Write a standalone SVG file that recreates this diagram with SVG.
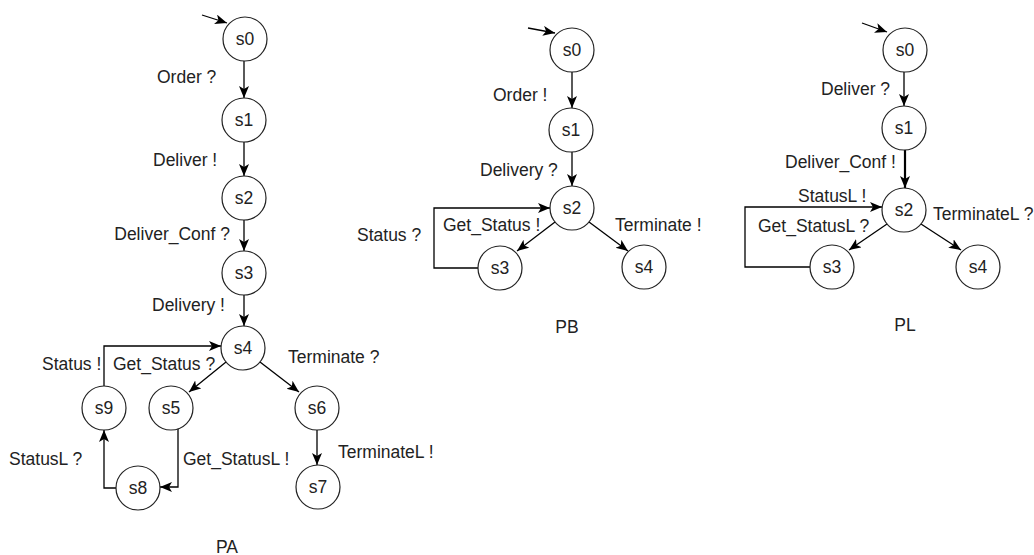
<svg xmlns="http://www.w3.org/2000/svg" width="1034" height="555" viewBox="0 0 1034 555">
<defs>
<style>
.st circle{fill:#fff;stroke:#222;stroke-width:1.2}
text{font-family:"Liberation Sans",Arial,sans-serif;font-size:17.5px;fill:#222}
.st text{text-anchor:middle}
.e{fill:none;stroke:#000;stroke-width:1.3;marker-end:url(#ah)}
.mid{text-anchor:middle}
.end{text-anchor:end}
</style>
<marker id="ah" markerUnits="userSpaceOnUse" markerWidth="13" markerHeight="11" refX="12" refY="5" orient="auto">
<path d="M0,0 L12,5 L0,10 L3,5 z" fill="#000"/>
</marker>
</defs>
<rect width="1034" height="555" fill="#fff"/>

<g id="connectors">
<!-- PA -->
<path class="e" d="M202,15 L227,23"/>
<path class="e" d="M244,61 L244,98"/>
<path class="e" d="M244,142 L244,176"/>
<path class="e" d="M244,220 L244,251"/>
<path class="e" d="M244,295 L244,326"/>
<path class="e" d="M226,362 L189,392"/>
<path class="e" d="M260,362 L299,392"/>
<path class="e" d="M317,430 L317,465"/>
<path class="e" d="M178,410 L178,487 L160,487"/>
<path class="e" d="M116,488 L104,488 L104,430"/>
<path class="e" d="M104,386 L104,346 L221,346"/>
<!-- PB -->
<path class="e" d="M528,28 L555,33"/>
<path class="e" d="M572,72 L572,108"/>
<path class="e" d="M572,152 L572,186"/>
<path class="e" d="M555,222 L517,251"/>
<path class="e" d="M589,222 L628,251"/>
<path class="e" d="M478,268 L434,268 L434,208 L550,208"/>
<!-- PL -->
<path class="e" d="M862,23 L887,32"/>
<path class="e" d="M904,72 L904,106"/>
<path class="e" d="M905,150 L905,188" style="stroke-width:2.2"/>
<path class="e" d="M887,224 L849,250"/>
<path class="e" d="M921,224 L961,250"/>
<path class="e" d="M810,267 L745,267 L745,207 L882,207"/>
</g>

<g id="edge-labels">
<text x="157" y="83">Order ?</text>
<text x="153" y="166">Deliver !</text>
<text x="230" y="240" class="end">Deliver_Conf ?</text>
<text x="152" y="311">Delivery !</text>
<text x="42" y="370">Status !</text>
<text x="113" y="370">Get_Status ?</text>
<text x="288" y="363">Terminate ?</text>
<text x="9" y="465">StatusL ?</text>
<text x="183" y="465">Get_StatusL !</text>
<text x="338" y="458">TerminateL !</text>

<text x="493" y="101">Order !</text>
<text x="480" y="176">Delivery ?</text>
<text x="443" y="231">Get_Status !</text>
<text x="615" y="231">Terminate !</text>
<text x="357" y="241">Status ?</text>

<text x="821" y="95">Deliver ?</text>
<text x="785" y="168">Deliver_Conf !</text>
<text x="798" y="202">StatusL !</text>
<text x="758" y="232">Get_StatusL ?</text>
<text x="933" y="220">TerminateL ?</text>
</g>

<g id="PA-s0" class="st"><circle cx="245" cy="39" r="22"/><text x="245" y="45">s0</text></g>
<g id="PA-s1" class="st"><circle cx="244" cy="120" r="22"/><text x="244" y="126">s1</text></g>
<g id="PA-s2" class="st"><circle cx="244" cy="198" r="22"/><text x="244" y="204">s2</text></g>
<g id="PA-s3" class="st"><circle cx="244" cy="273" r="22"/><text x="244" y="279">s3</text></g>
<g id="PA-s4" class="st"><circle cx="243" cy="348" r="22"/><text x="243" y="354">s4</text></g>
<g id="PA-s5" class="st"><circle cx="171" cy="408" r="22"/><text x="171" y="414">s5</text></g>
<g id="PA-s6" class="st"><circle cx="317" cy="408" r="22"/><text x="317" y="414">s6</text></g>
<g id="PA-s7" class="st"><circle cx="318" cy="487" r="22"/><text x="318" y="493">s7</text></g>
<g id="PA-s8" class="st"><circle cx="138" cy="488" r="22"/><text x="138" y="494">s8</text></g>
<g id="PA-s9" class="st"><circle cx="104" cy="408" r="22"/><text x="104" y="414">s9</text></g>

<g id="PB-s0" class="st"><circle cx="572" cy="50" r="22"/><text x="572" y="56">s0</text></g>
<g id="PB-s1" class="st"><circle cx="571" cy="130" r="22"/><text x="571" y="136">s1</text></g>
<g id="PB-s2" class="st"><circle cx="572" cy="208" r="22"/><text x="572" y="214">s2</text></g>
<g id="PB-s3" class="st"><circle cx="500" cy="268" r="22"/><text x="500" y="274">s3</text></g>
<g id="PB-s4" class="st"><circle cx="644" cy="267" r="22"/><text x="644" y="273">s4</text></g>

<g id="PL-s0" class="st"><circle cx="905" cy="50" r="22"/><text x="905" y="56">s0</text></g>
<g id="PL-s1" class="st"><circle cx="904" cy="128" r="22"/><text x="904" y="134">s1</text></g>
<g id="PL-s2" class="st"><circle cx="904" cy="210" r="22"/><text x="904" y="216">s2</text></g>
<g id="PL-s3" class="st"><circle cx="832" cy="267" r="22"/><text x="832" y="273">s3</text></g>
<g id="PL-s4" class="st"><circle cx="978" cy="267" r="22"/><text x="978" y="273">s4</text></g>

<g id="titles">
<text x="227" y="553" class="mid">PA</text>
<text x="567" y="333" class="mid">PB</text>
<text x="905" y="331" class="mid">PL</text>
</g>
</svg>
